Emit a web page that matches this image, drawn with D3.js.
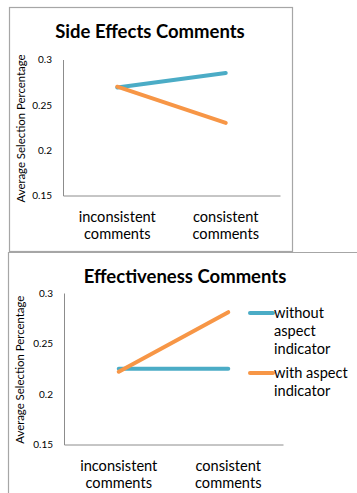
<!DOCTYPE html>
<html>
<head>
<meta charset="utf-8">
<script src="https://cdn.jsdelivr.net/npm/d3@7/dist/d3.min.js"></script>
<style>
  html, body { margin: 0; padding: 0; background: #fff; }
  svg { display: block; font-family: Lato, "Open Sans", sans-serif; }
</style>
</head>
<body>
<svg id="chart" width="357" height="493"></svg>
<script>
// Categories along the x axis (each label wraps onto two lines)
const categories = ["inconsistent comments", "consistent comments"];
// Series names shown in the legend
const seriesNames = ["without aspect indicator", "with aspect indicator"];
const seriesColors = ["#4BACC6", "#F79646"];
// Side Effects Comments values
const sideWithout = [0.269, 0.285];
const sideWith = [0.270, 0.230];
// Effectiveness Comments values
const effWithout = [0.225, 0.225];
const effWith = [0.222, 0.281];
// Y axis ticks
const yTicks = [0.15, 0.2, 0.25, 0.3];
const yDomain = [0.15, 0.3];

const svg = d3.select("#chart");
const borderColor = "#a6a6a6";
const axisColor = "#8c8c8c";

// Panel frames
svg.append("rect")
  .attr("x", 9.5).attr("y", 7.5).attr("width", 283).attr("height", 244)
  .attr("fill", "none").attr("stroke", borderColor).attr("stroke-width", 1.2);
svg.append("path")
  .attr("d", "M8.5,500 V252.5 H357")
  .attr("fill", "none").attr("stroke", borderColor).attr("stroke-width", 1.2);

function drawPanel(opts) {
  const g = svg.append("g");
  const x = d3.scaleBand().domain(categories).range([opts.x0, opts.x1]).padding(0);
  const y = d3.scaleLinear().domain(yDomain).range([opts.y1, opts.y0]);

  // Title
  g.append("text")
    .attr("x", opts.titleX).attr("y", opts.titleY)
    .attr("text-anchor", "middle")
    .attr("font-size", 18.5).attr("font-weight", "bold").attr("fill", "#000")
    .text(opts.title);

  // Y axis
  const yAxis = d3.axisLeft(y).tickValues(yTicks).tickSize(0).tickPadding(11)
    .tickFormat(d => String(+d.toFixed(2)));
  const ya = g.append("g").attr("transform", `translate(${opts.x0},0)`).call(yAxis);
  ya.select(".domain").attr("stroke", axisColor);
  ya.selectAll("text").attr("font-size", 10).attr("fill", "#000")
    .attr("font-family", "Lato, 'Open Sans', sans-serif");

  // X axis line
  const xa = g.append("g").attr("transform", `translate(0,${opts.y1})`)
    .call(d3.axisBottom(x).tickSize(0).tickFormat(""));
  xa.select(".domain").attr("stroke", axisColor);

  // Category labels, two lines each
  categories.forEach(c => {
    const t = g.append("text")
      .attr("x", x(c) + x.bandwidth() / 2).attr("y", opts.y1 + 26)
      .attr("text-anchor", "middle").attr("font-size", 14.6).attr("fill", "#000");
    c.split(" ").forEach((w, i) => {
      t.append("tspan").attr("x", x(c) + x.bandwidth() / 2)
        .attr("dy", i === 0 ? 0 : 17.5).text(w);
    });
  });

  // Y axis title
  g.append("text")
    .attr("transform", `translate(${opts.titleYx},${(opts.y0 + opts.y1) / 2 + 1}) rotate(-90)`)
    .attr("text-anchor", "middle").attr("font-size", 11.4).attr("fill", "#000")
    .text("Average Selection Percentage");

  // Series lines
  const line = d3.line()
    .x((d, i) => x(categories[i]) + x.bandwidth() / 2)
    .y(d => y(d));
  opts.series.forEach((vals, s) => {
    g.append("path")
      .datum(vals)
      .attr("d", line)
      .attr("fill", "none")
      .attr("stroke", seriesColors[s])
      .attr("stroke-width", 4)
      .attr("stroke-linecap", "round");
  });
  return { x, y };
}

drawPanel({
  title: "Side Effects Comments", titleX: 150, titleY: 38,
  x0: 63, x1: 280, y0: 59.5, y1: 195.5, titleYx: 25,
  series: [sideWithout, sideWith]
});

drawPanel({
  title: "Effectiveness Comments", titleX: 185, titleY: 283,
  x0: 64, x1: 283, y0: 293, y1: 444.5, titleYx: 24,
  series: [effWithout, effWith]
});

// Legend for the lower panel
const legend = svg.append("g");
const legendLines = [["without", "aspect", "indicator"], ["with aspect", "indicator"]];
const legendY = [313, 373];
seriesNames.forEach((name, s) => {
  legend.append("line")
    .attr("x1", 250).attr("x2", 273)
    .attr("y1", legendY[s]).attr("y2", legendY[s])
    .attr("stroke", seriesColors[s]).attr("stroke-width", 4)
    .attr("stroke-linecap", "round");
  const t = legend.append("text")
    .attr("x", 274).attr("y", legendY[s] + 5)
    .attr("font-size", 14.6).attr("fill", "#000");
  legendLines[s].forEach((w, i) => {
    t.append("tspan").attr("x", 274).attr("dy", i === 0 ? 0 : 18).text(w);
  });
});
</script>
</body>
</html>
